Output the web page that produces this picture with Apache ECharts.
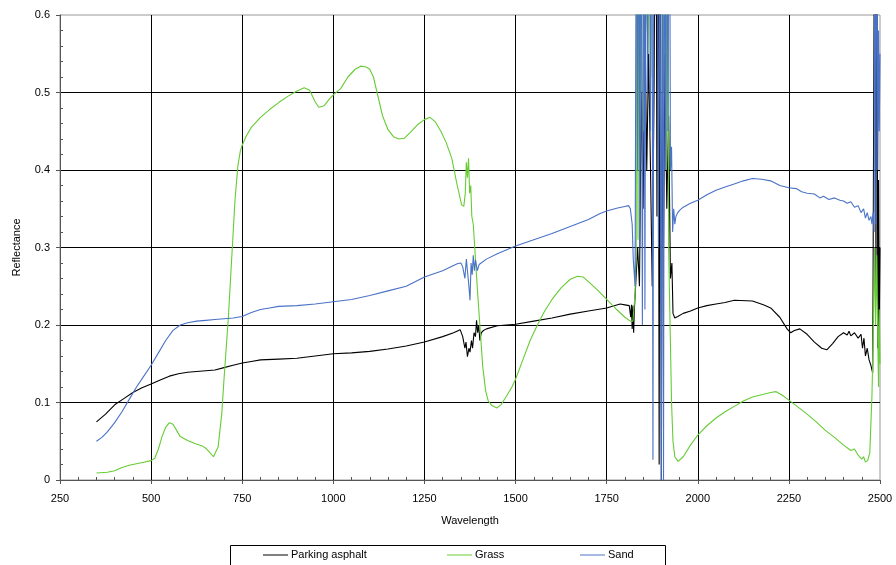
<!DOCTYPE html>
<html>
<head>
<meta charset="utf-8">
<script src="https://cdn.jsdelivr.net/npm/echarts@6/dist/echarts.min.js"></script>
<style>
html,body{margin:0;padding:0;background:#fff;}
#chart{width:896px;height:565px;}
</style>
</head>
<body>
<div id="chart"></div>
<script>
const seriesNames = ['Parking asphalt', 'Grass', 'Sand'];
const xTicks = [250, 500, 750, 1000, 1250, 1500, 1750, 2000, 2250, 2500];
const yTicks = [0, 0.1, 0.2, 0.3, 0.4, 0.5, 0.6];

const asphaltWl = [350,375,400,425,450,475,500,525,550,575,600,625,650,675,700,725,750,775,800,850,900,950,1000,1050,1100,1150,1200,1250,1300,1330,1348,1355,1361,1364,1368,1372,1375,1379,1382,1386,1390,1393,1396,1399,1402,1406,1412,1420,1450,1500,1550,1600,1650,1700,1750,1787,1800,1812,1816,1818,1820,1822,1824,1826,
  1830,1835,1840,1845,1850,1855,1860,1865,1870,1875,1880,1885,1888,1891,1894,1897,1900,1903,1906,1910,1915,1920,1925,1929,1932,
  1937,1945,1960,1980,2000,2025,2050,2075,2100,2150,2180,2200,2225,2245,2255,2265,2280,2300,2320,2340,2354,2370,2385,2400,2410,2415,2420,2430,2440,2448,2452,2456,2460,2465,2470,2475,2480,2483,2486,2489,2491,2494,2496,2498,2500];
const asphaltR = [0.075,0.085,0.097,0.105,0.113,0.119,0.124,0.129,0.134,0.137,0.139,0.140,0.141,0.142,0.145,0.148,0.151,0.153,0.155,0.156,0.157,0.160,0.163,0.164,0.166,0.169,0.173,0.178,0.185,0.190,0.194,0.185,0.170,0.178,0.159,0.170,0.165,0.180,0.170,0.190,0.185,0.206,0.190,0.200,0.180,0.190,0.193,0.195,0.199,0.201,0.205,0.209,0.214,0.218,0.222,0.227,0.226,0.225,0.210,0.226,0.195,0.225,0.190,0.220,
  0.220,0.300,0.250,0.500,0.350,0.600,0.400,0.550,0.410,0.250,0.500,0.900,0.340,0.900,0.020,0.850,0.000,0.500,0.300,0.550,0.350,0.470,0.260,0.280,0.215,
  0.209,0.211,0.215,0.218,0.222,0.225,0.227,0.229,0.232,0.231,0.226,0.222,0.210,0.195,0.190,0.193,0.195,0.188,0.178,0.170,0.168,0.176,0.185,0.190,0.187,0.192,0.186,0.190,0.183,0.188,0.170,0.183,0.160,0.170,0.155,0.148,0.138,0.140,0.900,0.250,0.900,0.170,0.387,0.200,0.300];

const grassWl = [350,380,400,420,440,460,480,500,510,520,530,540,550,560,570,580,600,620,640,650,660,671,684,694,700,706,712,718,724,730,738,745,750,760,775,800,825,850,875,900,920,935,950,960,975,990,1000,1020,1040,1060,1075,1090,1100,1110,1120,1135,1150,1165,1180,1195,1210,1230,1250,1265,1280,1295,1310,1325,1340,1352,1358,1362,1365,1368,1371,1374,1377,1380,1384,1388,1394,1402,1410,1418,1425,1435,1449,1460,1475,1490,1500,1520,1540,1560,1580,1600,1625,1650,1670,1685,1700,1725,1750,1775,1800,1815,1822,1828,1831,
  1833,1836,1839,1843,1847,1852,1856,1860,1864,1868,1871,1875,1880,1885,1890,1893,1897,1902,1906,1910,1914,1917,1920,1924,1928,1932,1937,
  1946,1960,1980,2000,2025,2050,2075,2100,2125,2150,2175,2200,2215,2230,2250,2275,2300,2325,2350,2375,2400,2420,2430,2440,2450,2455,2460,2466,2472,2478,2482,2485,2488,2491,2494,2496,2498,2500];
const grassR = [0.009,0.010,0.012,0.016,0.019,0.021,0.023,0.025,0.028,0.040,0.056,0.068,0.074,0.072,0.064,0.056,0.051,0.047,0.044,0.041,0.036,0.030,0.043,0.086,0.130,0.170,0.210,0.260,0.310,0.360,0.405,0.425,0.432,0.443,0.455,0.468,0.478,0.487,0.495,0.502,0.506,0.503,0.488,0.481,0.483,0.492,0.497,0.505,0.520,0.530,0.534,0.533,0.530,0.520,0.500,0.470,0.452,0.443,0.440,0.441,0.448,0.458,0.465,0.468,0.462,0.450,0.435,0.415,0.380,0.355,0.353,0.370,0.410,0.390,0.415,0.370,0.380,0.340,0.330,0.300,0.255,0.200,0.146,0.115,0.102,0.096,0.093,0.097,0.108,0.120,0.130,0.155,0.180,0.200,0.218,0.233,0.248,0.259,0.263,0.262,0.256,0.245,0.233,0.221,0.210,0.205,0.205,0.240,0.300,
  0.900,0.310,0.900,0.500,0.900,0.450,0.900,0.600,0.550,0.900,0.520,0.900,0.700,0.900,0.650,0.900,0.600,0.900,0.500,0.900,0.400,0.900,0.300,0.200,0.100,0.050,0.030,
  0.024,0.030,0.045,0.058,0.070,0.080,0.088,0.095,0.102,0.107,0.110,0.113,0.114,0.110,0.103,0.094,0.085,0.075,0.064,0.055,0.045,0.038,0.040,0.032,0.027,0.030,0.023,0.025,0.035,0.110,0.200,0.300,0.200,0.290,0.180,0.120,0.220,0.150];

const sandWl = [350,365,380,400,420,440,460,480,500,520,540,560,580,600,625,650,675,700,725,750,775,800,825,850,900,950,1000,1050,1100,1150,1200,1250,1300,1340,1350,1355,1361,1365,1368,1372,1375,1378,1381,1384,1387,1390,1395,1400,1405,1420,1450,1500,1550,1600,1650,1700,1732,1750,1780,1800,1810,1815,1820,1823,
  1828,1832,1835,1838,1841,1844,1848,1852,1855,1858,1862,1866,1870,1874,1877,1880,1884,1888,1892,1896,1900,1903,1906,1909,1912,1915,1918,1922,1925,1928,1931,1934,1937,
  1940,1945,1950,1960,1980,2000,2025,2050,2075,2100,2125,2150,2175,2200,2225,2250,2270,2285,2300,2320,2335,2345,2360,2375,2390,2400,2410,2420,2430,2440,2448,2455,2460,2465,2470,2475,2478,2481,2484,2486,2489,2491,2494,2496,2498,2500];
const sandR = [0.050,0.055,0.062,0.074,0.088,0.104,0.120,0.134,0.148,0.164,0.180,0.193,0.200,0.203,0.205,0.206,0.207,0.208,0.209,0.211,0.216,0.220,0.222,0.224,0.225,0.227,0.230,0.233,0.238,0.244,0.250,0.262,0.270,0.279,0.280,0.275,0.260,0.285,0.270,0.250,0.232,0.280,0.265,0.290,0.270,0.284,0.270,0.278,0.280,0.285,0.292,0.302,0.310,0.318,0.327,0.336,0.344,0.347,0.351,0.353,0.354,0.350,0.330,0.285,
  0.250,0.900,0.400,0.900,0.300,0.900,0.200,0.900,0.220,0.900,0.500,0.900,0.450,0.900,0.026,0.900,0.600,0.900,0.300,0.800,0.000,0.900,0.000,0.900,0.400,0.900,0.450,0.900,0.400,0.430,0.320,0.350,0.330,
  0.340,0.345,0.348,0.352,0.357,0.361,0.368,0.374,0.378,0.382,0.386,0.389,0.388,0.386,0.380,0.377,0.376,0.372,0.370,0.369,0.364,0.366,0.362,0.364,0.361,0.360,0.357,0.359,0.352,0.354,0.345,0.350,0.338,0.345,0.335,0.340,0.330,0.345,0.320,0.900,0.330,0.900,0.400,0.580,0.450,0.550];

const colors = ['#000000', '#66cc33', '#4a72c6'];

function pairs(xs, ys) { return xs.map((x, i) => [x, ys[i]]); }

const chart = echarts.init(document.getElementById('chart'), null, {renderer: 'canvas'});
const font = 'Liberation Sans, Arial, sans-serif';

const option = {
  animation: false,
  backgroundColor: '#ffffff',
  textStyle: {fontFamily: font},
  grid: {left: 60, right: 16, top: 15, bottom: 85, show: true, borderColor: '#999', borderWidth: 1},
  graphic: [{
    type: 'rect', left: 228, top: 543,
    shape: {width: 435, height: 40},
    style: {fill: 'none', stroke: '#000', lineWidth: 1}
  }],
  legend: seriesNames.map((n, i) => ({
    data: [{name: n, icon: 'rect', itemStyle: {color: colors[i]}}],
    left: [263, 447, 580][i],
    top: 549,
    padding: 0,
    itemWidth: 25,
    itemHeight: 1,
    itemGap: 4,
    textStyle: {fontFamily: font, fontSize: 11, color: '#000', padding: [0,0,0,-2], lineHeight: 12},
    selectedMode: false
  })),
  xAxis: [{
    type: 'value', min: xTicks[0], max: xTicks[xTicks.length - 1], interval: 250,
    position: 'bottom',
    name: 'Wavelength', nameLocation: 'middle', nameGap: 35,
    nameTextStyle: {fontFamily: font, fontSize: 11, color: '#000'},
    axisLine: {show: true, lineStyle: {color: '#555', width: 1}},
    axisTick: {show: true, length: 4, lineStyle: {color: '#555'}},
    axisLabel: {fontFamily: font, fontSize: 11, color: '#000', margin: 13, formatter: v => String(v)},
    splitLine: {show: true, showMaxLine: false, showMinLine: false, lineStyle: {color: '#000', width: 1}}
  }, {
    type: 'value', min: xTicks[0], max: xTicks[xTicks.length - 1], interval: 250,
    position: 'bottom',
    axisLine: {show: false},
    axisTick: {show: true, inside: true, length: 0.001, lineStyle: {color: 'rgba(0,0,0,0)'}},
    axisLabel: {show: false},
    splitLine: {show: false},
    minorTick: {show: true, splitNumber: 5, length: 3, lineStyle: {color: '#555'}}
  }],
  yAxis: [{
    type: 'value', min: yTicks[0], max: yTicks[yTicks.length - 1], interval: 0.1,
    position: 'left',
    name: 'Reflectance', nameLocation: 'middle', nameGap: 38,
    nameTextStyle: {fontFamily: font, fontSize: 11, color: '#000'},
    axisLine: {show: true, lineStyle: {color: '#555', width: 1}},
    axisTick: {show: true, length: 4, lineStyle: {color: '#555'}},
    axisLabel: {fontFamily: font, fontSize: 11, color: '#000', margin: 10, formatter: v => String(v)},
    splitLine: {show: true, showMaxLine: false, showMinLine: false, lineStyle: {color: '#000', width: 1}}
  }, {
    type: 'value', min: yTicks[0], max: yTicks[yTicks.length - 1], interval: 0.1,
    position: 'left',
    axisLine: {show: false},
    axisTick: {show: true, inside: true, length: 0.001, lineStyle: {color: 'rgba(0,0,0,0)'}},
    axisLabel: {show: false},
    splitLine: {show: false},
    minorTick: {show: true, splitNumber: 5, length: 3, lineStyle: {color: '#555'}}
  }],
  series: [
    {name: seriesNames[0], data: pairs(asphaltWl, asphaltR)},
    {name: seriesNames[1], data: pairs(grassWl, grassR)},
    {name: seriesNames[2], data: pairs(sandWl, sandR)}
  ].map((s, i) => Object.assign(s, {
    type: 'line', symbol: 'none', clip: true,
    xAxisIndex: 0, yAxisIndex: 0,
    color: colors[i],
    lineStyle: {color: colors[i], width: 1.1},
    z: 3 + i
  }))
};
chart.setOption(option);
</script>
</body>
</html>
